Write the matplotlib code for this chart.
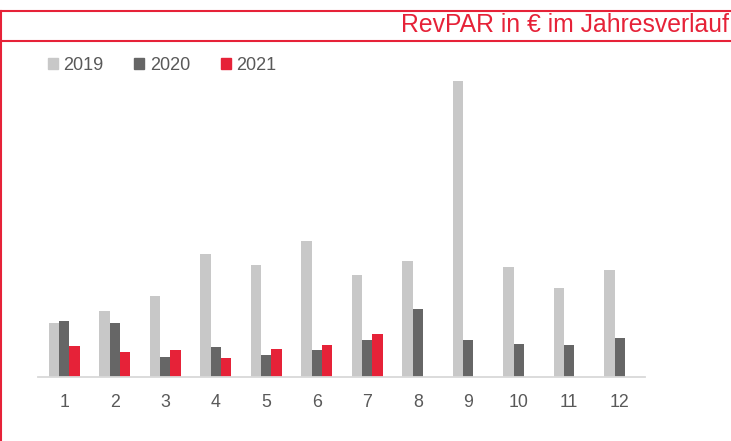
import matplotlib
matplotlib.use("Agg")
import matplotlib.pyplot as plt
import numpy as np
from matplotlib.patches import Patch
from matplotlib.lines import Line2D

months = ["1", "2", "3", "4", "5", "6", "7", "8", "9", "10", "11", "12"]
rev_2019 = [27.0, 32.9, 40.3, 61.5, 56.2, 67.8, 50.8, 57.8, 147.8, 55.0, 44.7, 53.5]
rev_2020 = [28.0, 26.8, 10.0, 15.2, 11.2, 13.7, 18.3, 33.8, 18.5, 16.5, 16.2, 19.5]
rev_2021 = [15.7, 12.3, 13.5, 9.3, 13.8, 16.0, 21.3]
series_labels = ["2019", "2020", "2021"]
title = "RevPAR in € im Jahresverlauf"

RED = "#e62238"
colors = ["#c8c8c8", "#666666", RED]

plt.rcParams['font.family'] = ['Liberation Sans', 'DejaVu Sans']

fig = plt.figure(figsize=(7.31, 4.41), dpi=100)
ax = fig.add_axes([38/731, (441-377)/441, (645-38)/731, 307/441])

x = np.arange(1, len(months) + 1)
w = 0.204
ax.bar(x - w, rev_2019, width=w, color=colors[0], label=series_labels[0])
ax.bar(x, rev_2020, width=w, color=colors[1], label=series_labels[1])
ax.bar(x[:len(rev_2021)] + w, rev_2021, width=w, color=colors[2], label=series_labels[2])

ax.set_xlim(0.48, 12.5)
ax.set_ylim(0, 153.5)
ax.set_xticks(x)
ax.set_xticklabels(months)
ax.set_yticks([])
for s in ["top", "right", "left"]:
    ax.spines[s].set_visible(False)
ax.spines["bottom"].set_color("#d9d9d9")
ax.spines["bottom"].set_linewidth(1.3)
ax.tick_params(axis="x", length=0, pad=12, labelsize=12.8, labelcolor="#595959")

handles = [Patch(color=c) for c in colors]
fig.legend(handles, series_labels, loc="upper left", bbox_to_anchor=(48/731, 1 - 57/441),
           ncol=3, frameon=False, borderpad=0, borderaxespad=0, fontsize=13,
           handlelength=0.55, handleheight=0.55, handletextpad=0.3, columnspacing=1.7,
           labelcolor="#595959")

fig.text(729/731, 1 - 24.5/441, title, ha="right", va="center", fontsize=17.8, color=RED)

lw = 1.5
fig.add_artist(Line2D([0, 1], [1 - 10.5/441] * 2, color=RED, lw=lw, transform=fig.transFigure))
fig.add_artist(Line2D([0, 1], [1 - 41/441] * 2, color=RED, lw=lw, transform=fig.transFigure))
fig.add_artist(Line2D([1/731] * 2, [0, 1 - 10.5/441], color=RED, lw=lw, transform=fig.transFigure))

fig.savefig("out.png", dpi=100)
